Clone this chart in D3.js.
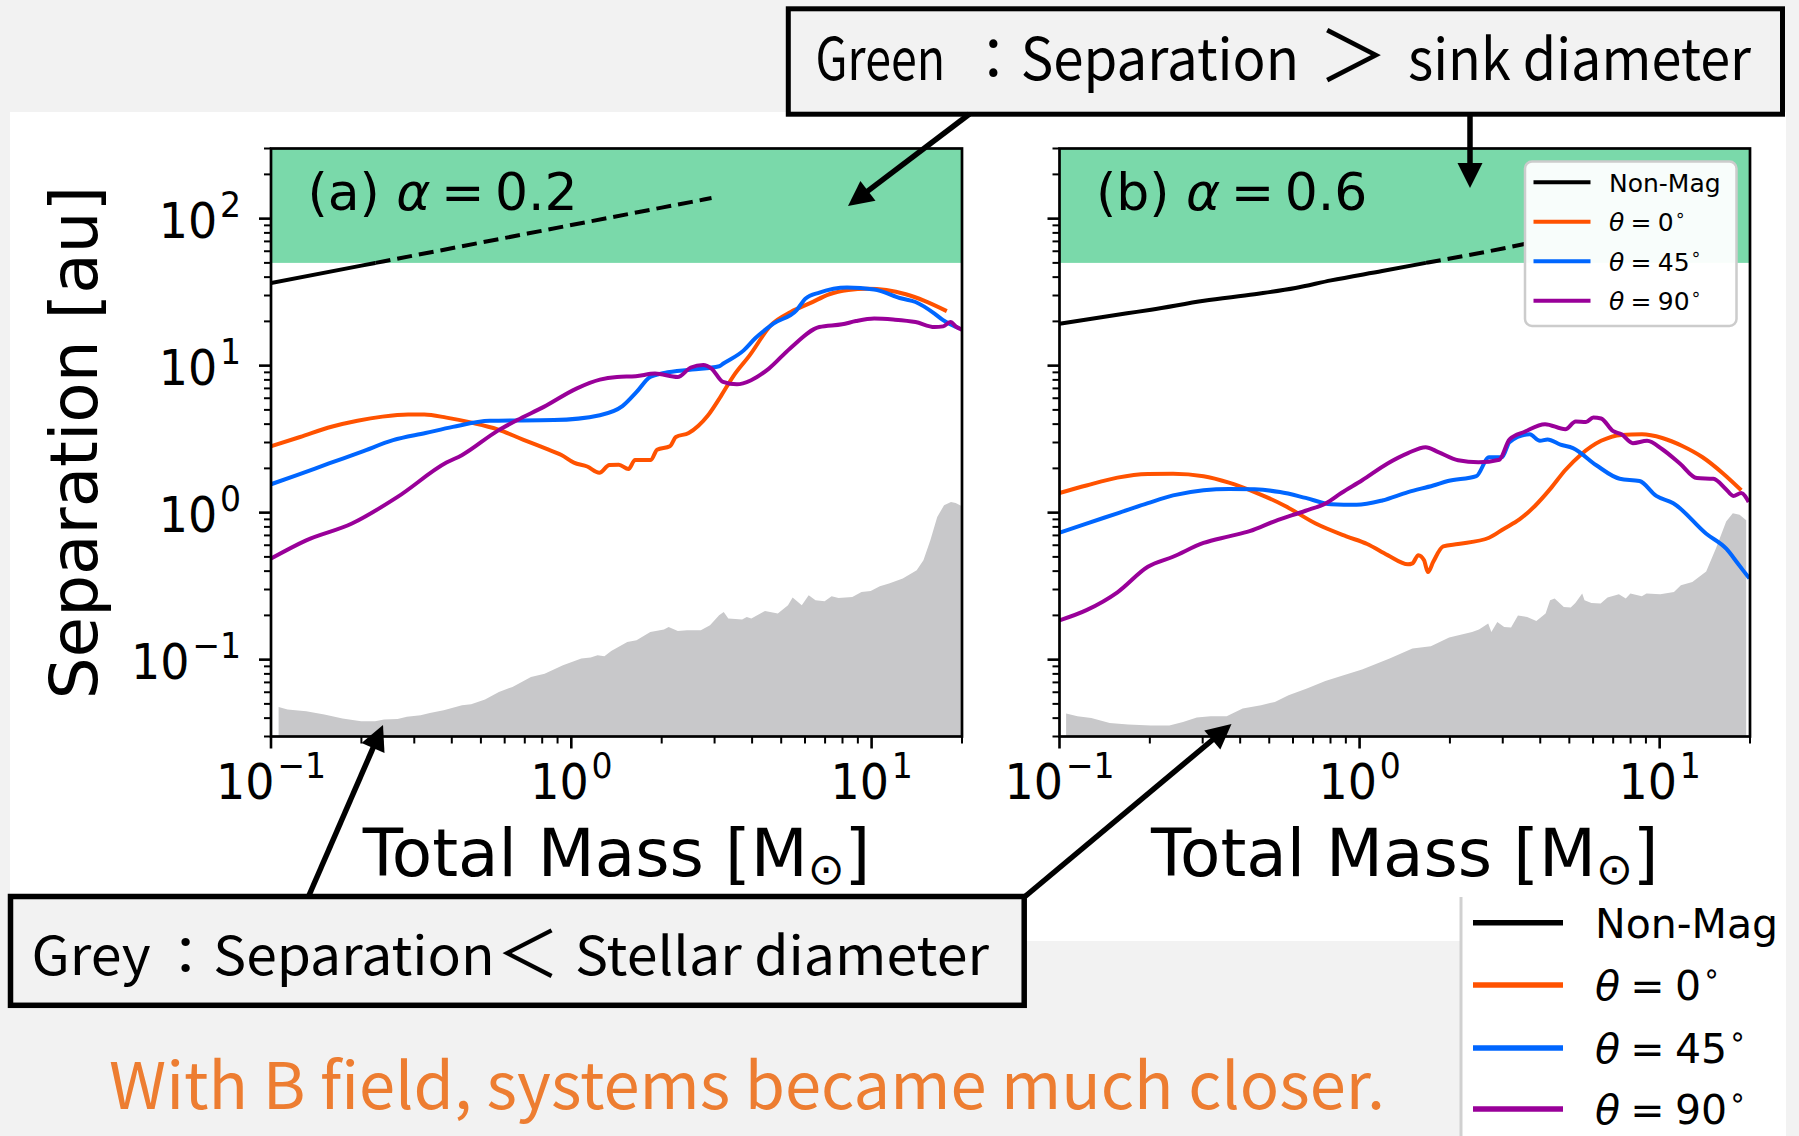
<!DOCTYPE html>
<html>
<head>
<meta charset="utf-8">
<title>Binary separation vs total mass</title>
<script src="https://cdn.jsdelivr.net/npm/d3@7"></script>
<style>
  html, body { margin: 0; padding: 0; background: #f2f2f2; }
  svg { display: block; }
  .mpl { font-family: "DejaVu Sans", sans-serif; }
  .jp { font-family: "Noto Sans CJK JP", "Noto Sans", sans-serif; }
</style>
</head>
<body>
<svg id="fig" width="1799" height="1136"></svg>
<script>
// ---------------- data ----------------
const massDomain = [0.1, 20];          // Total Mass [M_sun]
const sepDomain = [0.03, 300];         // Separation [au]
const sinkDiameter = 50;               // green band: separation > sink diameter
const massMajorTicks = [0.1, 1, 10];
const massTickExponents = ["\u22121", "0", "1"];
const sepMajorTicks = [0.1, 1, 10, 100];
const sepTickExponents = ["\u22121", "0", "1", "2"];
const panelLetters = ["(a)", "(b)"];
const panelAlphas = ["0.2", "0.6"];
const nonMagName = "Non-Mag";
const thetaValues = ["0", "45", "90"];

// (a) alpha = 0.2
const nonMagA = [[0.1,36.4],[0.2,47.9],[0.5,68.7],[1,90.4],[2,118.8],[2.93,138]];
const theta0A = [[0.1,2.83],[0.125,3.27],[0.159,3.84],[0.194,4.22],[0.235,4.50],[0.286,4.65],[0.324,4.65],[0.384,4.43],[0.467,4.09],[0.568,3.69],[0.690,3.14],[0.840,2.68],[0.927,2.47],[1.02,2.19],[1.13,2.06],[1.24,1.87],[1.34,2.11],[1.44,2.12],[1.55,1.98],[1.63,2.28],[1.84,2.28],[1.93,2.68],[2.13,2.83],[2.23,3.27],[2.46,3.48],[2.65,3.90],[2.85,4.58],[3.15,6.21],[3.47,8.53],[3.92,11.7],[4.64,19.0],[5.38,23.2],[6.24,26.6],[7.23,30.6],[8.36,32.7],[9.68,33.4],[11.2,32.7],[13.0,30.6],[15.0,27.6],[17.8,23.5]];
const theta45A = [[0.1,1.56],[0.122,1.80],[0.156,2.16],[0.200,2.59],[0.255,3.11],[0.327,3.48],[0.403,3.83],[0.535,4.21],[0.875,4.26],[1.245,4.60],[1.48,5.30],[1.65,6.62],[1.83,8.37],[2.04,8.91],[2.52,9.40],[3.11,9.91],[3.20,10.3],[3.75,12.7],[4.09,15.3],[4.71,19.3],[5.62,23.8],[6.03,28.6],[6.70,31.4],[8.28,34.0],[10.2,33.0],[12.6,28.6],[14.0,27.1],[16.2,22.6],[17.3,20.4],[19.6,17.9]];
const theta90A = [[0.1,0.487],[0.131,0.648],[0.186,0.843],[0.264,1.28],[0.384,2.19],[0.432,2.46],[0.568,3.60],[0.660,4.26],[0.810,5.24],[1.04,6.98],[1.245,8.03],[1.42,8.37],[1.64,8.47],[1.90,8.83],[2.26,8.37],[2.50,9.71],[2.75,10.1],[2.93,9.55],[3.20,7.75],[3.56,7.46],[3.97,7.96],[4.55,9.55],[5.35,13.1],[6.70,18.3],[7.98,19.1],[8.87,20.1],[10.2,20.9],[11.8,20.6],[14.0,19.8],[16.2,18.3],[17.3,18.5],[18.3,19.8],[19.2,18.3],[19.95,17.6]];
const stellarA = [[0.106,0.0477],[0.1135,0.0458],[0.131,0.0446],[0.1505,0.0423],[0.173,0.0398],[0.1995,0.0381],[0.222,0.0381],[0.238,0.0391],[0.264,0.0395],[0.2835,0.0408],[0.315,0.0418],[0.338,0.0434],[0.376,0.0453],[0.4325,0.0490],[0.464,0.0497],[0.516,0.0536],[0.574,0.0603],[0.637,0.0652],[0.734,0.0762],[0.815,0.0803],[0.938,0.0916],[1.080,0.1018],[1.16,0.1033],[1.223,0.1072],[1.289,0.1055],[1.358,0.1146],[1.536,0.132],[1.649,0.1355],[1.833,0.1543],[2.035,0.1603],[2.109,0.1669],[2.263,0.1567],[2.428,0.1585],[2.699,0.1585],[2.897,0.1714],[3.106,0.2005],[3.218,0.2112],[3.333,0.1904],[3.706,0.1874],[3.839,0.1952],[3.977,0.1904],[4.416,0.2145],[4.871,0.206],[5.268,0.2344],[5.457,0.2645],[5.855,0.2344],[6.173,0.2742],[6.504,0.2535],[6.975,0.2495],[7.36,0.27],[7.76,0.263],[8.625,0.267],[9.254,0.2887],[9.93,0.2933],[10.65,0.3157],[11.43,0.3295],[12.7,0.3562],[14.13,0.4057],[14.88,0.4746],[15.69,0.6489],[16.54,0.935],[17.43,1.123],[18.38,1.183],[19.05,1.164],[19.85,1.114]];

// (b) alpha = 0.6
const nonMagB = [[0.1,19.3],[0.168,22.7],[0.202,24.0],[0.303,27.6],[0.447,30.6],[0.611,33.7],[0.803,38.0],[1.19,44.0],[1.69,50.3],[2.49,58.1],[3.55,67.2]];
const theta0B = [[0.1,1.36],[0.123,1.53],[0.156,1.73],[0.197,1.83],[0.239,1.84],[0.302,1.77],[0.367,1.60],[0.447,1.38],[0.565,1.11],[0.714,0.843],[0.903,0.690],[1.06,0.612],[1.24,0.514],[1.45,0.445],[1.50,0.452],[1.57,0.514],[1.64,0.474],[1.69,0.394],[1.76,0.463],[1.90,0.589],[2.13,0.612],[2.70,0.675],[3.03,0.778],[3.41,0.899],[3.84,1.11],[4.32,1.45],[4.85,1.95],[5.46,2.48],[6.38,3.08],[7.46,3.38],[8.73,3.41],[10.2,3.22],[11.9,2.84],[13.9,2.38],[16.3,1.84],[18.7,1.42]];
const theta45B = [[0.1,0.730],[0.123,0.843],[0.156,0.989],[0.197,1.16],[0.239,1.31],[0.302,1.42],[0.367,1.45],[0.447,1.44],[0.543,1.38],[0.661,1.26],[0.803,1.14],[0.977,1.13],[1.19,1.21],[1.45,1.38],[1.76,1.53],[1.97,1.64],[2.45,1.77],[2.70,2.38],[2.98,2.38],[3.16,3.02],[3.69,3.41],[3.99,3.08],[4.23,3.15],[4.67,2.90],[5.14,2.75],[6.15,2.10],[7.36,1.70],[8.57,1.64],[9.74,1.30],[11.1,1.16],[14.3,0.718],[16.7,0.566],[18.3,0.445],[19.9,0.357]];
const theta90B = [[0.1,0.185],[0.123,0.217],[0.156,0.287],[0.197,0.428],[0.239,0.501],[0.302,0.622],[0.367,0.690],[0.430,0.748],[0.523,0.877],[0.661,1.03],[0.773,1.16],[0.869,1.36],[1.02,1.66],[1.24,2.16],[1.45,2.54],[1.66,2.79],[1.83,2.58],[2.13,2.27],[2.49,2.20],[2.92,2.29],[3.16,3.15],[3.55,3.55],[4.15,4.00],[4.85,3.69],[5.25,4.17],[5.68,4.13],[6.01,4.44],[6.38,4.37],[6.98,3.60],[7.46,3.41],[8.14,2.97],[9.08,3.08],[10.2,2.70],[11.7,2.15],[13.3,1.72],[15.1,1.70],[16.6,1.45],[17.6,1.30],[18.7,1.36],[19.8,1.18]];
const stellarB = [[0.1052,0.0430],[0.1148,0.0412],[0.1276,0.0401],[0.147,0.0371],[0.1692,0.0362],[0.2017,0.0356],[0.2323,0.0357],[0.258,0.0377],[0.2868,0.0404],[0.3188,0.0412],[0.3606,0.0412],[0.4077,0.0465],[0.4695,0.0490],[0.522,0.0516],[0.5797,0.0573],[0.6675,0.0636],[0.7689,0.0716],[0.8845,0.0783],[1.019,0.0857],[1.259,0.1018],[1.50,0.119],[1.728,0.1234],[1.988,0.1413],[2.371,0.1543],[2.50,0.1603],[2.683,0.1761],[2.749,0.1543],[2.877,0.1805],[3.033,0.1669],[3.197,0.1653],[3.371,0.1995],[3.618,0.1952],[3.882,0.1834],[4.167,0.2058],[4.313,0.2535],[4.467,0.2604],[4.793,0.2284],[5.054,0.2262],[5.236,0.2430],[5.519,0.2817],[5.618,0.2535],[5.924,0.243],[6.357,0.2407],[6.702,0.2645],[7.313,0.2786],[7.711,0.2604],[7.988,0.2817],[8.723,0.27],[9.036,0.2817],[10.05,0.2786],[11.16,0.2887],[11.77,0.3207],[12.85,0.3378],[14.29,0.3974],[15.44,0.5790],[16.66,0.871],[17.53,0.991],[18.46,0.969],[19.43,0.889]];

// annotation texts (label, colon + quantity, comparison sign, reference size)
const greenNoteParts = ["Green", "\uFF1ASeparation", "\uFF1E", "sink diameter"];
const greyNoteParts = ["Grey", "\uFF1ASeparation", "\uFF1C", "Stellar diameter"];
const summaryNote = "With B field, systems became much closer.";

// ---------------- styles ----------------
const colors = { nonMag: "#000000", t0: "#ff5200", t45: "#0066ff", t90: "#990099" };
const bandColor = "#7ad9aa";
const stellarColor = "#c8c8ca";
const AX_TOP = 148.5, AX_BOTTOM = 736.5;
const LINE_W = 4;
const TICK_SQUEEZE = 0.92;

const svg = d3.select("#fig");
const defs = svg.append("defs");

// page background + white figure area
svg.append("rect").attr("width", 1799).attr("height", 1136).attr("fill", "#f2f2f2");
svg.append("rect").attr("x", 10).attr("y", 112).attr("width", 1776).attr("height", 829).attr("fill", "#ffffff");
svg.append("rect").attr("x", 1461).attr("y", 897).attr("width", 325).attr("height", 239).attr("fill", "#ffffff");

function isMajor(v) {
  const l = Math.log10(v);
  return Math.abs(l - Math.round(l)) < 1e-9;
}

function splitAtLevel(data, level) {
  const lv = Math.log10(level);
  for (let i = 1; i < data.length; i++) {
    const a = Math.log10(data[i - 1][1]), b = Math.log10(data[i][1]);
    if ((a - lv) * (b - lv) <= 0 && a !== b) {
      const t = (lv - a) / (b - a);
      const m0 = Math.log10(data[i - 1][0]), m1 = Math.log10(data[i][0]);
      const cross = [Math.pow(10, m0 + t * (m1 - m0)), level];
      return [data.slice(0, i).concat([cross]), [cross].concat(data.slice(i))];
    }
  }
  return [data, []];
}

function powerLabel(textSel, exp, fs) {
  textSel.append("tspan").text("10");
  textSel.append("tspan").attr("font-size", fs * 0.72).attr("dx", 3).attr("dy", -fs * 0.43).text(exp);
}

function thetaLabel(textSel, value, fs) {
  textSel.append("tspan").attr("font-style", "italic").text("\u03B8");
  textSel.append("tspan").text("\u2005=\u2005" + value);
  textSel.append("tspan").attr("font-size", fs * 0.7).attr("dx", fs * 0.04).attr("dy", -fs * 0.42).text("\u2218");
}

function drawPanel(idx, left, right, series, showYLabels) {
  const x = d3.scaleLog().domain(massDomain).range([left, right]);
  const y = d3.scaleLog().domain(sepDomain).range([AX_BOTTOM, AX_TOP]);
  const g = svg.append("g").attr("class", "mpl");
  const clipId = "axclip" + idx;
  defs.append("clipPath").attr("id", clipId).append("rect")
    .attr("x", x(massDomain[0])).attr("y", y(sepDomain[1]))
    .attr("width", x(massDomain[1]) - x(massDomain[0]))
    .attr("height", y(sepDomain[0]) - y(sepDomain[1]));

  const plot = g.append("g").attr("clip-path", `url(#${clipId})`);

  // sink-diameter band
  plot.append("rect")
    .attr("x", x(massDomain[0])).attr("y", y(sepDomain[1]))
    .attr("width", x(massDomain[1]) - x(massDomain[0]))
    .attr("height", y(sinkDiameter) - y(sepDomain[1]))
    .attr("fill", bandColor);

  // stellar-diameter region
  const area = d3.area().x(d => x(d[0])).y0(y(sepDomain[0])).y1(d => y(d[1]));
  plot.append("path").datum(series.stellar).attr("d", area).attr("fill", stellarColor);

  // non-magnetic: solid below sink diameter, dashed above
  const smooth = d3.line().x(d => x(d[0])).y(d => y(d[1])).curve(d3.curveMonotoneX);
  const [solidPart, dashedPart] = splitAtLevel(series.nonMag, sinkDiameter);
  plot.append("path").datum(solidPart).attr("d", smooth)
    .attr("fill", "none").attr("stroke", colors.nonMag).attr("stroke-width", LINE_W);
  if (dashedPart.length) {
    plot.append("path").datum(dashedPart).attr("d", smooth)
      .attr("fill", "none").attr("stroke", colors.nonMag).attr("stroke-width", LINE_W)
      .attr("stroke-dasharray", "15,7");
  }

  [["t0", series.t0], ["t45", series.t45], ["t90", series.t90]].forEach(([k, d]) => {
    plot.append("path").datum(d).attr("d", smooth)
      .attr("fill", "none").attr("stroke", colors[k]).attr("stroke-width", LINE_W)
      .attr("stroke-linejoin", "round");
  });

  // ticks
  const xt = x.ticks();
  g.selectAll(".xtick").data(xt).enter().append("line")
    .attr("x1", d => x(d)).attr("x2", d => x(d))
    .attr("y1", AX_BOTTOM).attr("y2", d => AX_BOTTOM + (isMajor(d) ? 12 : 7))
    .attr("stroke", "#000").attr("stroke-width", d => isMajor(d) ? 2.6 : 2);
  const yt = y.ticks();
  g.selectAll(".ytick").data(yt).enter().append("line")
    .attr("y1", d => y(d)).attr("y2", d => y(d))
    .attr("x1", left).attr("x2", d => left - (isMajor(d) ? 12 : 7))
    .attr("stroke", "#000").attr("stroke-width", d => isMajor(d) ? 2.6 : 2);

  // tick labels
  massMajorTicks.forEach((v, i) => {
    const t = g.append("text")
      .attr("transform", `translate(${x(v)},799) scale(${TICK_SQUEEZE},1)`)
      .attr("text-anchor", "middle").attr("font-size", 50).attr("fill", "#000");
    powerLabel(t, massTickExponents[i], 50);
  });
  if (showYLabels) {
    sepMajorTicks.forEach((v, i) => {
      const t = g.append("text")
        .attr("transform", `translate(${left - 30},${y(v) + 19.5}) scale(${TICK_SQUEEZE},1)`)
        .attr("text-anchor", "end").attr("font-size", 50).attr("fill", "#000");
      powerLabel(t, sepTickExponents[i], 50);
    });
    g.append("text")
      .attr("transform", `translate(97,${(AX_TOP + AX_BOTTOM) / 2}) rotate(-90)`)
      .attr("text-anchor", "middle").attr("font-size", 66).attr("fill", "#000")
      .text("Separation [au]");
  }

  // x-axis label with solar subscript
  const xl = g.append("text").attr("x", (left + right) / 2).attr("y", 875.5)
    .attr("text-anchor", "middle").attr("font-size", 66).attr("fill", "#000");
  xl.append("tspan").text("Total Mass [M");
  xl.append("tspan").attr("font-size", 44).attr("dy", 8).text("\u2299");
  xl.append("tspan").attr("dy", -8).text("]");

  // panel title
  const tt = g.append("text").attr("x", left + 36.4).attr("y", 210)
    .attr("font-size", 52).attr("fill", "#000");
  tt.append("tspan").text(panelLetters[idx] + " ");
  tt.append("tspan").attr("font-style", "italic").text("\u03B1");
  tt.append("tspan").text("\u2009=\u2009" + panelAlphas[idx]);

  // frame
  g.append("rect").attr("x", left).attr("y", AX_TOP)
    .attr("width", right - left).attr("height", AX_BOTTOM - AX_TOP)
    .attr("fill", "none").attr("stroke", "#000").attr("stroke-width", 2.7);

  return { x, y, g };
}

drawPanel(0, 271, 962,
  { nonMag: nonMagA, t0: theta0A, t45: theta45A, t90: theta90A, stellar: stellarA }, true);
drawPanel(1, 1059.5, 1750,
  { nonMag: nonMagB, t0: theta0B, t45: theta45B, t90: theta90B, stellar: stellarB }, false);

// legend inside panel (b)
const legKeys = ["nonMag", "t0", "t45", "t90"];
const leg = svg.append("g").attr("class", "mpl");
leg.append("rect").attr("x", 1525).attr("y", 161.5).attr("width", 211.5).attr("height", 164.5)
  .attr("rx", 7).attr("fill", "#ffffff").attr("fill-opacity", 0.95)
  .attr("stroke", "#cccccc").attr("stroke-width", 2.5);
legKeys.forEach((k, i) => {
  const ly = 182.3 + i * 39.5;
  leg.append("line").attr("x1", 1533.5).attr("x2", 1590.5).attr("y1", ly).attr("y2", ly)
    .attr("stroke", colors[k]).attr("stroke-width", LINE_W);
  const t = leg.append("text").attr("x", 1609).attr("y", ly + 9.2).attr("font-size", 25).attr("fill", "#000");
  if (i === 0) t.text(nonMagName); else thetaLabel(t, thetaValues[i - 1], 25);
});

// large legend at lower right
const leg2 = svg.append("g").attr("class", "mpl");
leg2.append("line").attr("x1", 1461).attr("x2", 1461).attr("y1", 897).attr("y2", 1136)
  .attr("stroke", "#d0d0d0").attr("stroke-width", 3);
legKeys.forEach((k, i) => {
  const ly = [922.7, 985, 1048, 1109][i];
  leg2.append("line").attr("x1", 1473).attr("x2", 1563).attr("y1", ly).attr("y2", ly)
    .attr("stroke", colors[k]).attr("stroke-width", 5.5);
  const t = leg2.append("text").attr("x", 1595).attr("y", ly + 15).attr("font-size", 41).attr("fill", "#000");
  if (i === 0) t.text(nonMagName); else thetaLabel(t, thetaValues[i - 1], 41);
});

// annotation boxes
const notes = svg.append("g").attr("class", "jp");

// one note line laid out piece by piece: [left, right] spans for words, a centre for the comparison sign
function noteLine(parts, spans, baseline, fs, signSize, signBaseline) {
  parts.forEach((p, i) => {
    const s = spans[i];
    if (Array.isArray(s)) {
      notes.append("text").attr("x", s[0]).attr("y", baseline).attr("font-size", fs)
        .attr("textLength", s[1] - s[0]).attr("lengthAdjust", "spacingAndGlyphs")
        .attr("fill", "#000").text(p);
    } else {
      notes.append("text").attr("x", s).attr("y", signBaseline)
        .attr("font-size", signSize).attr("text-anchor", "middle")
        .attr("fill", "#000").text(p);
    }
  });
}

notes.append("rect").attr("x", 788.3).attr("y", 8.8).attr("width", 994.2).attr("height", 105.4)
  .attr("fill", "#f2f2f2").attr("stroke", "#000").attr("stroke-width", 5);
noteLine(greenNoteParts, [[815.6, 945], [966, 1299], 1353, [1408, 1751]], 80, 58, 70, 82);

notes.append("rect").attr("x", 10.5).attr("y", 896.5).attr("width", 1013.7).attr("height", 108.8)
  .attr("fill", "#f2f2f2").attr("stroke", "#000").attr("stroke-width", 5.5);
noteLine(greyNoteParts, [[31.6, 150.8], [158, 494.6], 528, [575, 989]], 975, 53, 64, 977);

notes.append("text").attr("x", 109).attr("y", 1109).attr("font-size", 64)
  .attr("textLength", 1276).attr("lengthAdjust", "spacingAndGlyphs").attr("fill", "#ed7d31").text(summaryNote);

// arrows
function arrow(x1, y1, x2, y2) {
  const L = 25, W = 25;
  const dx = x2 - x1, dy = y2 - y1, len = Math.hypot(dx, dy);
  const ux = dx / len, uy = dy / len, nx = -uy, ny = ux;
  const bx = x2 - ux * L, by = y2 - uy * L;
  svg.append("line").attr("x1", x1).attr("y1", y1).attr("x2", bx + ux * 2).attr("y2", by + uy * 2)
    .attr("stroke", "#000").attr("stroke-width", 5.5);
  svg.append("polygon")
    .attr("points", [[x2, y2], [bx + nx * W / 2, by + ny * W / 2], [bx - nx * W / 2, by - ny * W / 2]].map(p => p.join(",")).join(" "))
    .attr("fill", "#000");
}
arrow(969.5, 114, 848, 206);
arrow(1470, 114, 1470, 188);
arrow(308.5, 896.5, 383, 725);
arrow(1025, 896.5, 1231.5, 724);
</script>
</body>
</html>
